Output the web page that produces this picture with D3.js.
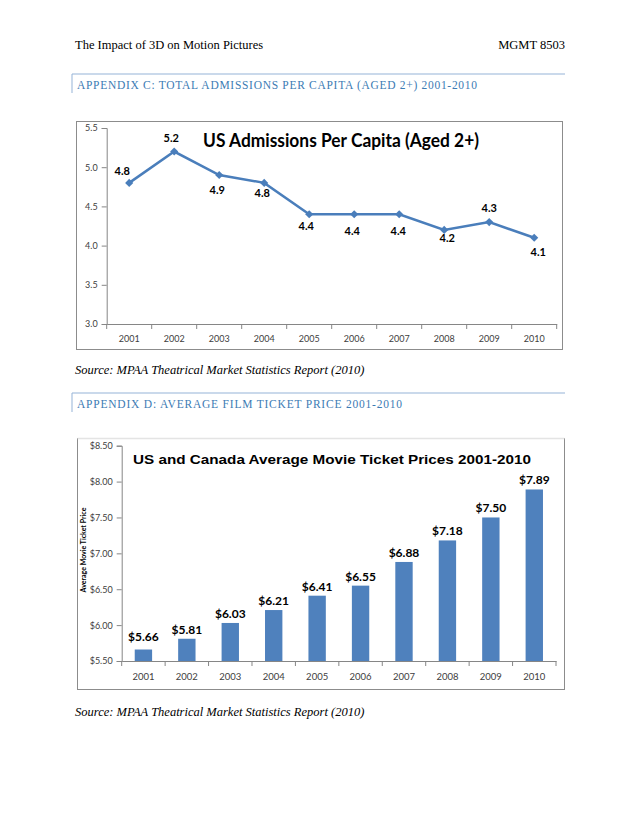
<!DOCTYPE html>
<html>
<head>
<meta charset="utf-8">
<script src="https://cdn.jsdelivr.net/npm/d3@7/dist/d3.min.js"></script>
<style>
  body { margin: 0; background: #fff; }
  svg { display: block; }
  .serif { font-family: "Liberation Serif", "DejaVu Serif", serif; }
  .calib { font-family: Lato, "Open Sans", sans-serif; }
  .arial { font-family: "Liberation Sans", Arial, sans-serif; }
</style>
</head>
<body>
<svg id="page" width="638" height="826"></svg>
<script>
// chart data
var years = ["2001", "2002", "2003", "2004", "2005", "2006", "2007", "2008", "2009", "2010"]
var admissions = [4.8, 5.2, 4.9, 4.8, 4.4, 4.4, 4.4, 4.2, 4.3, 4.1]
var admissionTicks = [3.0, 3.5, 4.0, 4.5, 5.0, 5.5]
var ticketPrices = [5.66, 5.81, 6.03, 6.21, 6.41, 6.55, 6.88, 7.18, 7.50, 7.89]
var priceTicks = [5.5, 6.0, 6.5, 7.0, 7.5, 8.0, 8.5]

var svg = d3.select("#page")

//---- page text ----
svg.append("text").attr("class", "serif").attr("x", 75).attr("y", 49)
    .attr("font-size", 12.5).text("The Impact of 3D on Motion Pictures")
svg.append("text").attr("class", "serif").attr("x", 565).attr("y", 49)
    .attr("font-size", 12.5).attr("text-anchor", "end").text("MGMT 8503")

function appendixHeading(y, label, width) {
    svg.append("line").attr("x1", 72).attr("x2", 565).attr("y1", y).attr("y2", y)
        .attr("stroke", "#95b3d7").attr("stroke-width", 1)
    svg.append("line").attr("x1", 72).attr("x2", 72).attr("y1", y).attr("y2", y + 19)
        .attr("stroke", "#95b3d7").attr("stroke-width", 1)
    svg.append("text").attr("class", "serif").attr("x", 77).attr("y", y + 14.5)
        .attr("font-size", 11.5).attr("fill", "#3c7bb4")
        .attr("textLength", width).attr("lengthAdjust", "spacing")
        .text(label)
}
appendixHeading(74, "APPENDIX C:  TOTAL ADMISSIONS PER CAPITA (AGED 2+) 2001-2010", 400)
appendixHeading(393, "APPENDIX D: AVERAGE FILM TICKET PRICE 2001-2010", 325)

function sourceLine(y) {
    svg.append("text").attr("class", "serif").attr("x", 75).attr("y", y)
        .attr("font-size", 12.5).attr("font-style", "italic")
        .text("Source: MPAA Theatrical Market Statistics Report (2010)")
}
sourceLine(374)
sourceLine(716)

//---- chart C: line chart ----
var c1 = {left: 106.7, right: 556.7, top: 128, bottom: 324}

svg.append("rect").attr("x", 76.5).attr("y", 121.5).attr("width", 486).attr("height", 228)
    .attr("fill", "none").attr("stroke", "#8c8c8c")

var x1 = d3.scaleBand().domain(years).range([c1.left, c1.right])
var y1 = d3.scaleLinear().domain([3.0, 5.5]).range([c1.bottom, c1.top])

var yAxis1 = svg.append("g").attr("transform", "translate(" + c1.left + ",0)")
    .call(d3.axisLeft(y1).tickValues(admissionTicks).tickSize(5).tickFormat(d3.format(".1f")))
var xAxis1 = svg.append("g").attr("transform", "translate(0," + c1.bottom + ")")
    .call(d3.axisBottom(x1).tickSize(0))

function styleAxis(g, size) {
    g.select(".domain").attr("stroke", "#868686")
    g.selectAll(".tick line").attr("stroke", "#868686")
    g.selectAll(".tick text").attr("class", "calib").attr("font-size", size).attr("fill", "#404040")
}
styleAxis(yAxis1, 9)
styleAxis(xAxis1, 9)
yAxis1.selectAll(".tick text").attr("x", -9)
xAxis1.selectAll(".tick text").attr("dy", "1.7em")

// category separator ticks under the x axis
svg.append("g").selectAll("line")
    .data(d3.range(years.length + 1))
    .enter().append("line")
    .attr("x1", function(i) { return c1.left + i * x1.step() })
    .attr("x2", function(i) { return c1.left + i * x1.step() })
    .attr("y1", c1.bottom).attr("y2", c1.bottom + 5)
    .attr("stroke", "#868686")

var line1 = d3.line()
    .x(function(d, i) { return x1(years[i]) + x1.bandwidth() / 2 })
    .y(function(d) { return y1(d) })

svg.append("path").datum(admissions).attr("d", line1)
    .attr("fill", "none").attr("stroke", "#4a7ebb").attr("stroke-width", 2.5)

var diamond = d3.symbol().type(d3.symbolDiamond2).size(42)
svg.append("g").selectAll("path")
    .data(admissions).enter().append("path")
    .attr("d", diamond)
    .attr("transform", function(d, i) {
        return "translate(" + (x1(years[i]) + x1.bandwidth() / 2) + "," + y1(d) + ")"
    })
    .attr("fill", "#4a7ebb")

// label nudges as Excel placed them (dx, dy from the point)
var labelNudge1 = [[-7, -12], [-3, -14], [-2, 14], [-2, 10], [-3, 11],
                   [-2, 16], [-1, 16], [3, 8], [0, -15], [4, 13.5]]

svg.append("g").selectAll("text")
    .data(admissions).enter().append("text")
    .attr("class", "calib")
    .attr("x", function(d, i) { return x1(years[i]) + x1.bandwidth() / 2 + labelNudge1[i][0] })
    .attr("y", function(d, i) { return y1(d) + labelNudge1[i][1] })
    .attr("dominant-baseline", "central")
    .attr("text-anchor", "middle")
    .attr("font-size", 11).attr("font-weight", "bold")
    .text(function(d) { return d.toFixed(1) })

svg.append("text").attr("class", "calib").attr("x", 341).attr("y", 147)
    .attr("text-anchor", "middle").attr("font-size", 18.5).attr("font-weight", "bold")
    .attr("textLength", 276).attr("lengthAdjust", "spacingAndGlyphs")
    .text("US Admissions Per Capita (Aged 2+)")

//---- chart D: bar chart ----
var c2 = {left: 121.7, right: 556, top: 445.7, bottom: 661}

svg.append("rect").attr("x", 77.5).attr("y", 438.5).attr("width", 487).attr("height", 251)
    .attr("fill", "none").attr("stroke", "#8c8c8c")
svg.append("line").attr("x1", 77.5).attr("x2", 564.5).attr("y1", 438.5).attr("y2", 438.5)
    .attr("stroke", "#e4e4e4").attr("stroke-width", 1.5)

var x2 = d3.scaleBand().domain(years).range([c2.left, c2.right]).paddingInner(0.6).paddingOuter(0.3)
var y2 = d3.scaleLinear().domain([5.5, 8.5]).range([c2.bottom, c2.top])

svg.append("g").selectAll("rect")
    .data(ticketPrices).enter().append("rect")
    .attr("x", function(d, i) { return x2(years[i]) })
    .attr("width", x2.bandwidth())
    .attr("y", function(d) { return y2(d) })
    .attr("height", function(d) { return c2.bottom - y2(d) })
    .attr("fill", "#4f81bd")

var yAxis2 = svg.append("g").attr("transform", "translate(" + c2.left + ",0)")
    .call(d3.axisLeft(y2).tickValues(priceTicks).tickSize(5).tickFormat(d3.format("$.2f")))
var xAxis2 = svg.append("g").attr("transform", "translate(0," + c2.bottom + ")")
    .call(d3.axisBottom(x2).tickSize(0))
styleAxis(yAxis2, 9)
styleAxis(xAxis2, 9.5)
yAxis2.selectAll(".tick text").attr("x", -9)
xAxis2.selectAll(".tick text").attr("dy", "1.7em")

var step2 = (c2.right - c2.left) / years.length
svg.append("g").selectAll("line")
    .data(d3.range(years.length + 1))
    .enter().append("line")
    .attr("x1", function(i) { return c2.left + i * step2 })
    .attr("x2", function(i) { return c2.left + i * step2 })
    .attr("y1", c2.bottom).attr("y2", c2.bottom + 5)
    .attr("stroke", "#868686")

svg.append("g").selectAll("text")
    .data(ticketPrices).enter().append("text")
    .attr("class", "calib")
    .attr("x", function(d, i) { return x2(years[i]) + x2.bandwidth() / 2 })
    .attr("y", function(d, i) { return y2(d) - (i == 0 ? 9 : 5) })
    .attr("text-anchor", "middle")
    .attr("font-size", 12).attr("font-weight", "bold")
    .text(function(d) { return "$" + d.toFixed(2) })

svg.append("text").attr("class", "arial").attr("x", 332).attr("y", 464)
    .attr("text-anchor", "middle").attr("font-size", 13.5).attr("font-weight", "bold")
    .attr("textLength", 398).attr("lengthAdjust", "spacingAndGlyphs")
    .text("US and Canada Average Movie Ticket Prices 2001-2010")

svg.append("text").attr("class", "calib")
    .attr("transform", "translate(86,550) rotate(-90)")
    .attr("text-anchor", "middle").attr("font-size", 7).attr("font-weight", "bold")
    .text("Average Movie Ticket Price")
</script>
</body>
</html>
